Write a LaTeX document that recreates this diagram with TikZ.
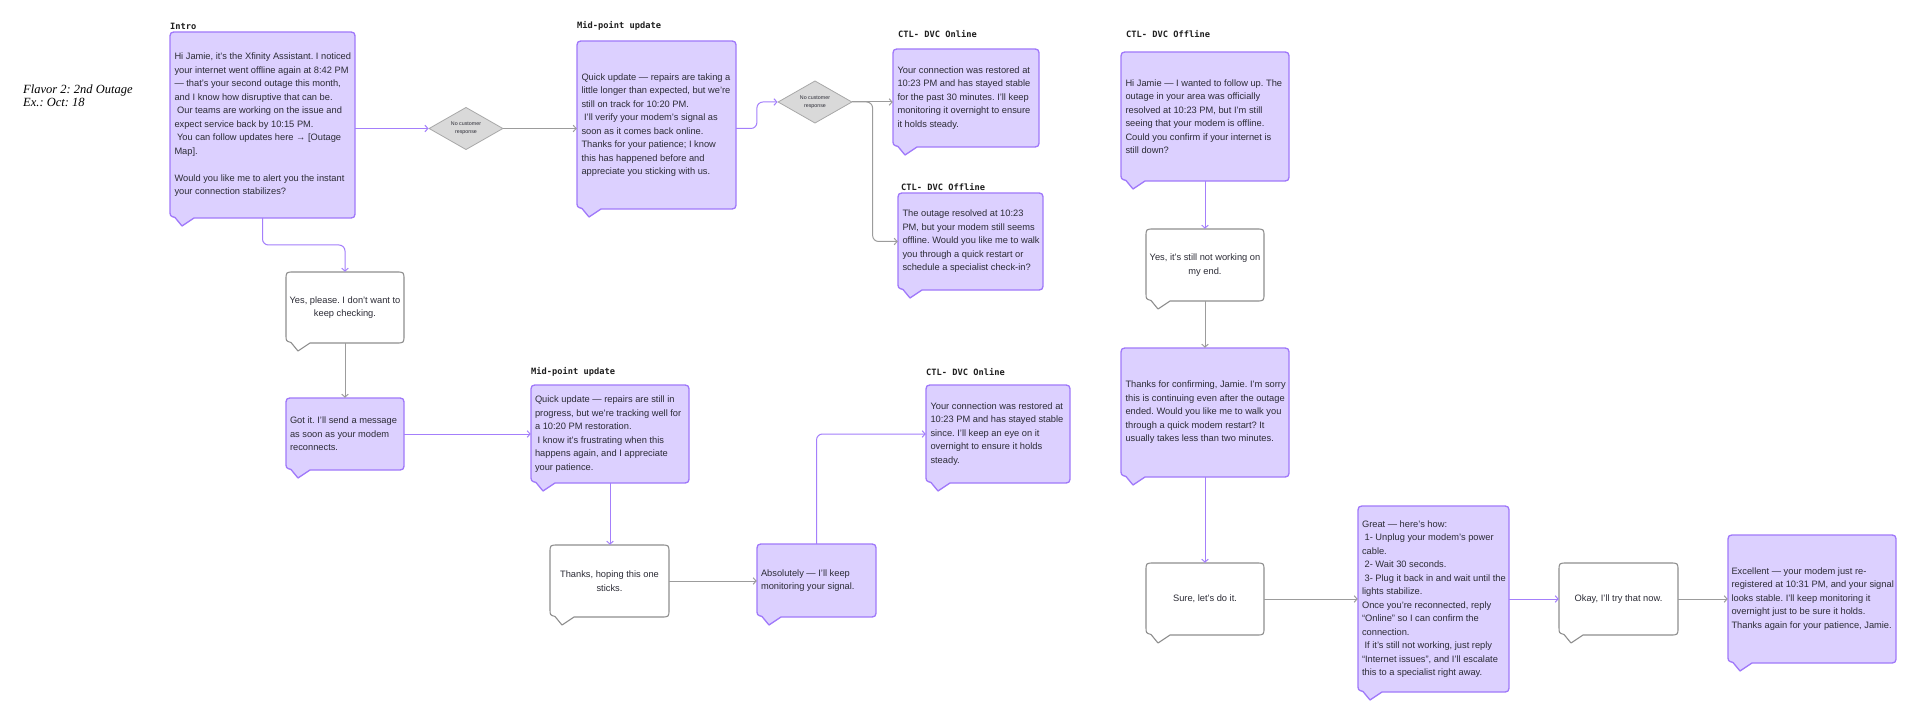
\documentclass[tikz,border=0pt]{standalone}
\usepackage{fontspec}
\setmainfont{Liberation Sans}
\newfontfamily\monof{DejaVu Sans Mono}
\newfontfamily\handf{Liberation Serif}
\usetikzlibrary{shapes.geometric,arrows.meta,calc}
\frenchspacing
\definecolor{cPFill}{HTML}{DCD0FF}
\definecolor{cPLine}{HTML}{A079FA}
\definecolor{cPCon}{HTML}{A47FFB}
\definecolor{cWLine}{HTML}{8E8E8E}
\definecolor{cGCon}{HTML}{9C9C9C}
\definecolor{cDFill}{HTML}{D9D9D9}
\definecolor{cDLine}{HTML}{A8A8A8}
\definecolor{cText}{HTML}{2C2C36}
\tikzset{
  pbub/.style={fill=cPFill,draw=cPLine,line width=1.3pt,line join=round},
  wbub/.style={fill=white,draw=cWLine,line width=1.1pt,line join=round},
  txt/.style={inner sep=0pt,font=\frenchspacing\fontsize{9.3}{13.5}\selectfont,text=cText},
  ltxt/.style={txt,align=left,anchor=west},
  ctxt/.style={txt,align=center},
  lbl/.style={inner sep=0pt,anchor=west,font=\monof\bfseries\fontsize{8.7}{10}\selectfont,text=black!88},
  pconn/.style={draw=cPCon,line width=1pt,rounded corners=6pt,-{Straight Barb[length=3pt,width=6.5pt]}},
  gconn/.style={draw=cGCon,line width=1pt,rounded corners=6pt,-{Straight Barb[length=3pt,width=6.5pt]}},
  decis/.style={diamond,fill=cDFill,draw=cDLine,line width=0.8pt,minimum width=74pt,minimum height=40pt,inner sep=0pt,align=center,font=\fontsize{5.3}{7.6}\selectfont,text=cText}
}
% #1 style, #2 name, #3 L, #4 T, #5 R, #6 B
\newcommand\bubble[6]{%
  \path[#1] ({#3+8},#4) -- ({#5-8},#4) .. controls (#5,#4) .. (#5,{#4+8})
    -- (#5,{#6-8}) .. controls (#5,#6) .. ({#5-8},#6)
    -- ({#3+24},#6) -- ({#3+12},{#6+8}) -- ({#3+5},{#6-0.5})
    .. controls (#3,{#6-2}) .. (#3,{#6-8})
    -- (#3,{#4+8}) .. controls (#3,#4) .. ({#3+8},#4) -- cycle;
  \node[inner sep=0pt,minimum width={#5-#3},minimum height={#6-#4}] (#2) at ({(#3+#5)/2},{(#4+#6)/2}) {};
}
\begin{document}
\begin{tikzpicture}[x=1pt,y=-1pt]
\useasboundingbox (0,0) rectangle (1920,714);
\fill[white] (0,0) rectangle (1920,714);

% handwritten note
\node[inner sep=0pt,anchor=west,align=left,font=\handf\itshape\fontsize{12.5}{13}\selectfont] (flavor) at (23,95.5) {Flavor 2: 2nd Outage\\Ex.: Oct: 18};

% labels
\node[lbl] (l1) at (170,26) {Intro};
\node[lbl] (l2) at (577,26) {Mid-point update};
\node[lbl] (l3) at (898,34) {CTL- DVC Online};
\node[lbl] (l4) at (901,187) {CTL- DVC Offline};
\node[lbl] (l5) at (1126,34) {CTL- DVC Offline};
\node[lbl] (l6) at (531,372) {Mid-point update};
\node[lbl] (l7) at (926,372) {CTL- DVC Online};

% bubbles
\bubble{pbub}{A}{170}{32}{355}{218}
\bubble{pbub}{M1}{577}{41}{736}{209}
\bubble{pbub}{ON1}{893}{49}{1039}{147}
\bubble{pbub}{OFF1}{898}{193}{1043}{290}
\bubble{pbub}{OFF2}{1121}{52}{1289}{181}
\bubble{wbub}{YES2}{1146}{229}{1264}{301}
\bubble{pbub}{TH}{1121}{348}{1289}{477}
\bubble{wbub}{SURE}{1146}{563}{1264}{635}
\bubble{pbub}{GREAT}{1358}{506}{1509}{692}
\bubble{wbub}{OKAY}{1559}{563}{1678}{635}
\bubble{pbub}{EXC}{1728}{535}{1896}{663}
\bubble{wbub}{YES1}{286}{272}{404}{343}
\bubble{pbub}{GOT}{286}{398}{404}{470}
\bubble{pbub}{M2}{531}{385}{689}{483}
\bubble{wbub}{THX}{550}{545}{669}{617}
\bubble{pbub}{ABS}{757}{544}{876}{617}
\bubble{pbub}{ON2}{926}{385}{1070}{483}

% decisions
\node[decis] (D1) at (466,128.5) {No customer\\response};
\node[decis] (D2) at (815,102) {No customer\\response};

% texts
\node[ltxt] (A-t) at ([xshift=4.5pt]A.west) {Hi Jamie, it’s the Xfinity Assistant. I noticed\\your internet went offline again at 8:42 PM\\— that’s your second outage this month,\\and I know how disruptive that can be.\\\hspace*{2.6pt}Our teams are working on the issue and\\expect service back by 10:15 PM.\\\hspace*{2.6pt}You can follow updates here → [Outage\\Map].\\\mbox{}\\Would you like me to alert you the instant\\your connection stabilizes?};
\node[ltxt] (M1-t) at ([xshift=4.5pt]M1.west) {Quick update — repairs are taking a\\little longer than expected, but we’re\\still on track for 10:20 PM.\\\hspace*{2.6pt}I’ll verify your modem’s signal as\\soon as it comes back online.\\Thanks for your patience; I know\\this has happened before and\\appreciate you sticking with us.};
\node[ltxt] (ON1-t) at ([xshift=4.5pt]ON1.west) {Your connection was restored at\\10:23 PM and has stayed stable\\for the past 30 minutes. I’ll keep\\monitoring it overnight to ensure\\it holds steady.};
\node[ltxt] (OFF1-t) at ([xshift=4.5pt]OFF1.west) {The outage resolved at 10:23\\PM, but your modem still seems\\offline. Would you like me to walk\\you through a quick restart or\\schedule a specialist check-in?};
\node[ltxt] (OFF2-t) at ([xshift=4.5pt]OFF2.west) {Hi Jamie — I wanted to follow up. The\\outage in your area was officially\\resolved at 10:23 PM, but I’m still\\seeing that your modem is offline.\\Could you confirm if your internet is\\still down?};
\node[ctxt] (YES2-t) at (YES2.center) {Yes, it’s still not working on\\my end.};
\node[ltxt] (TH-t) at ([xshift=4.5pt]TH.west) {Thanks for confirming, Jamie. I’m sorry\\this is continuing even after the outage\\ended. Would you like me to walk you\\through a quick modem restart? It\\usually takes less than two minutes.};
\node[ctxt] (SURE-t) at (SURE.center) {Sure, let’s do it.};
\node[ltxt] (GREAT-t) at ([xshift=4pt]GREAT.west) {Great — here’s how:\\\hspace*{2.6pt}1- Unplug your modem’s power\\cable.\\\hspace*{2.6pt}2- Wait 30 seconds.\\\hspace*{2.6pt}3- Plug it back in and wait until the\\lights stabilize.\\Once you’re reconnected, reply\\“Online” so I can confirm the\\connection.\\\hspace*{2.6pt}If it’s still not working, just reply\\“Internet issues”, and I’ll escalate\\this to a specialist right away.};
\node[ctxt] (OKAY-t) at (OKAY.center) {Okay, I’ll try that now.};
\node[ltxt] (EXC-t) at ([xshift=3.5pt]EXC.west) {Excellent — your modem just re-\\registered at 10:31 PM, and your signal\\looks stable. I’ll keep monitoring it\\overnight just to be sure it holds.\\Thanks again for your patience, Jamie.};
\node[ctxt] (YES1-t) at (YES1.center) {Yes, please. I don’t want to\\keep checking.};
\node[ltxt] (GOT-t) at ([xshift=4pt]GOT.west) {Got it. I’ll send a message\\as soon as your modem\\reconnects.};
\node[ltxt] (M2-t) at ([xshift=4pt]M2.west) {Quick update — repairs are still in\\progress, but we’re tracking well for\\a 10:20 PM restoration.\\\hspace*{2.6pt}I know it’s frustrating when this\\happens again, and I appreciate\\your patience.};
\node[ctxt] (THX-t) at (THX.center) {Thanks, hoping this one\\sticks.};
\node[ltxt] (ABS-t) at ([xshift=4pt]ABS.west) {Absolutely — I’ll keep\\monitoring your signal.};
\node[ltxt] (ON2-t) at ([xshift=4.5pt]ON2.west) {Your connection was restored at\\10:23 PM and has stayed stable\\since. I’ll keep an eye on it\\overnight to ensure it holds\\steady.};

% connectors
\coordinate (m1j) at ($(M1.east)!.5!(D2.west)$);
\coordinate (d2j) at ($(D2.east)!.5!(ON1.west)$);
\coordinate (ayj) at ($(A.south)!.5!(YES1.north)$);

\draw[pconn] (A.east |- D1.west) -- (D1.west);
\draw[gconn] (D1.east) -- (D1.east -| M1.west);
\draw[pconn] (M1.east |- D1.east) -| (m1j |- D2.west) -- (D2.west);
\draw[gconn] (D2.east) -- (D2.east -| ON1.west);
\draw[gconn] (D2.east) -| (d2j |- OFF1.west) -- (OFF1.west);
\draw[pconn] (OFF2.south) -- (YES2.north);
\draw[gconn] (YES2.south) -- (TH.north);
\draw[pconn] (TH.south) -- (SURE.north);
\draw[gconn] (SURE.east) -- (SURE.east -| GREAT.west);
\draw[pconn] (GREAT.east) -- (GREAT.east -| OKAY.west);
\draw[gconn] (OKAY.east) -- (OKAY.east -| EXC.west);
\draw[pconn] (A.south) |- (ayj -| YES1.north) -- (YES1.north);
\draw[gconn] (YES1.south) -- (GOT.north);
\draw[pconn] (GOT.east) -- (GOT.east -| M2.west);
\draw[pconn] (M2.south) -- (M2.south |- THX.north);
\draw[gconn] (THX.east) -- (THX.east -| ABS.west);
\draw[pconn] (ABS.north) |- (ON2.west);
\end{tikzpicture}
\end{document}
